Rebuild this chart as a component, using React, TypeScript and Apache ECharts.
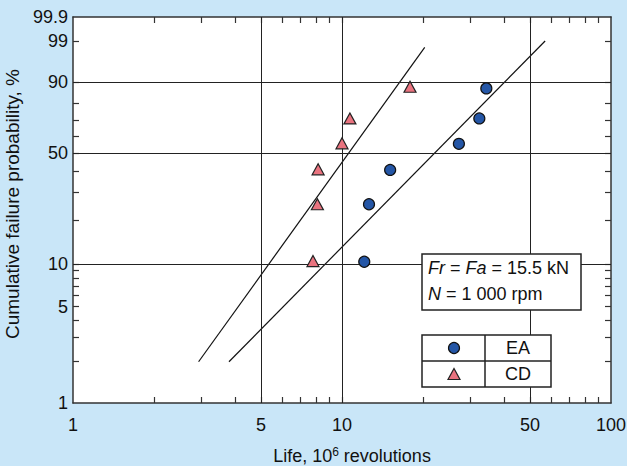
import React, { useEffect, useRef } from "react";
import * as echarts from "echarts";

// ---- data ----
const eaLife = [12.1, 12.6, 15.1, 27.2, 32.4, 34.4];
const eaProb = [10.4, 25.2, 40.5, 55.4, 71.1, 87.3];
const cdLife = [7.8, 8.1, 8.15, 10.0, 10.7, 17.9];
const cdProb = [10.5, 25.2, 40.8, 55.7, 71.1, 88.0];

const eaFitLife = [3.8, 56.9];
const eaFitProb = [2.0, 99.0];
const cdFitLife = [2.93, 20.3];
const cdFitProb = [2.0, 98.4];

// ---- axis ticks ----
const xLabelValues = [1, 5, 10, 50, 100];
const xMinorTicks = [2, 3, 4, 6, 7, 8, 9, 20, 30, 40, 60, 70, 80, 90];
const xGridValues = [5, 10, 50];
const yLabelValues = [1, 5, 10, 50, 90, 99, 99.9];
const yLabelTexts = ["1", "5", "10", "50", "90", "99", "99.9"];
const yMinorTicks = [2, 3, 4, 6, 7, 8, 9, 20, 30, 40, 60, 70, 80];
const yGridValues = [10, 50, 90];

const xLifeMin = 1;
const xLifeMax = 100;
const yProbMin = 1;
const yProbMax = 99.9;

// Weibull probability scale and log life scale
const wb = (p: number) => Math.log(-Math.log(1 - p / 100));
const lg = (v: number) => Math.log10(v);

const FONT = "'Liberation Sans', Arial, Helvetica, sans-serif";

const labelFor = (val: number, values: number[], texts: string[], tf: (n: number) => number) => {
  for (let i = 0; i < values.length; i++) {
    if (Math.abs(tf(values[i]) - val) < 1e-6) return texts[i];
  }
  return "";
};

export default function App() {
  const ref = useRef<HTMLDivElement>(null);

  useEffect(() => {
    if (!ref.current) return;
    const chart = echarts.init(ref.current, undefined, { renderer: "svg" });

    const xTickVals = [...xMinorTicks, 5, 10, 50].map(lg);
    const yTickVals = [...yMinorTicks, 5, 10, 50, 90, 99].map(wb);
    const xMin = lg(xLifeMin), xMax = lg(xLifeMax);
    const yMin = wb(yProbMin), yMax = wb(yProbMax);

    const tickStyle = { show: true, inside: true, length: 6, lineStyle: { color: "#333", width: 1.2 } };
    const axisLine = { show: true, onZero: false, lineStyle: { color: "#333", width: 1.5 } };
    const Z = 100;

    const option: any = {
      animation: false,
      backgroundColor: "#c9e6f8",
      textStyle: { fontFamily: FONT },
      grid: {
        left: 73, right: 16, top: 17, bottom: 63,
        outerBoundsMode: "none",
        containLabel: false,
        show: true, backgroundColor: "#ffffff", borderWidth: 0,
      },
      xAxis: [
        {
          type: "value", min: xMin, max: xMax, position: "bottom",
          axisLine,
          axisTick: { ...tickStyle, customValues: xTickVals },
          splitLine: { show: false },
          axisLabel: {
            customValues: xLabelValues.map(lg),
            formatter: (v: number) => labelFor(v, xLabelValues, xLabelValues.map(String), lg),
            color: "#111", fontSize: 18, fontFamily: FONT, margin: 13,
          },
          name: "Life, 10{sup|6} revolutions",
          nameLocation: "middle",
          nameGap: 43,
          nameTextStyle: {
            color: "#111", fontSize: 18, fontFamily: FONT, padding: [0, 0, 0, 20],
            rich: {
              sup: { fontSize: 12, fontFamily: FONT, color: "#111", verticalAlign: "top", padding: [0, 0, 8, 0] },
            },
          },
        },
        {
          type: "value", min: xMin, max: xMax, position: "top",
          axisLine,
          axisTick: { ...tickStyle, customValues: xTickVals },
          splitLine: { show: false },
          axisLabel: { show: false },
        },
      ],
      yAxis: [
        {
          type: "value", min: yMin, max: yMax, position: "left",
          axisLine,
          axisTick: { ...tickStyle, customValues: yTickVals },
          splitLine: { show: false },
          axisLabel: {
            customValues: yLabelValues.map(wb),
            formatter: (v: number) => labelFor(v, yLabelValues, yLabelTexts, wb),
            color: "#111", fontSize: 18, fontFamily: FONT, margin: 5,
          },
          name: "Cumulative failure probability, %",
          nameLocation: "middle",
          nameGap: 48,
          nameTextStyle: { color: "#111", fontSize: 19, fontFamily: FONT, padding: [0, 0, 0, 12] },
        },
        {
          type: "value", min: yMin, max: yMax, position: "right",
          axisLine,
          axisTick: { ...tickStyle, customValues: yTickVals },
          splitLine: { show: false },
          axisLabel: { show: false },
        },
      ],
      series: [
        {
          type: "line",
          name: "grid",
          data: [],
          silent: true,
          z: 1,
          markLine: {
            silent: true,
            symbol: "none",
            label: { show: false },
            animation: false,
            lineStyle: { color: "#222", width: 1, type: "solid" },
            data: [
              ...xGridValues.map((v) => ({ xAxis: lg(v) })),
              ...yGridValues.map((v) => ({ yAxis: wb(v) })),
            ],
          },
        },
        {
          type: "line",
          name: "EA fit",
          data: eaFitLife.map((l, i) => [lg(l), wb(eaFitProb[i])]),
          symbol: "none",
          lineStyle: { color: "#111", width: 1.2 },
          silent: true,
          z: 3,
        },
        {
          type: "line",
          name: "CD fit",
          data: cdFitLife.map((l, i) => [lg(l), wb(cdFitProb[i])]),
          symbol: "none",
          lineStyle: { color: "#111", width: 1.2 },
          silent: true,
          z: 3,
        },
        {
          type: "scatter",
          name: "EA",
          data: eaLife.map((l, i) => [lg(l), wb(eaProb[i])]),
          symbol: "circle",
          symbolSize: 11,
          itemStyle: { color: "#2456a6", borderColor: "#111", borderWidth: 1.2, opacity: 1 },
          z: 5,
        },
        {
          type: "scatter",
          name: "CD",
          data: cdLife.map((l, i) => [lg(l), wb(cdProb[i])]),
          symbol: "triangle",
          symbolSize: [12, 11],
          itemStyle: { color: "#e9737f", borderColor: "#222", borderWidth: 1.2, opacity: 1 },
          z: 5,
        },
      ],
      graphic: [
        {
          type: "rect", z: Z,
          shape: { x: 422, y: 254, width: 159, height: 56 },
          style: { fill: "#ffffff", stroke: "#222", lineWidth: 1.5 },
        },
        {
          type: "text", z: Z + 1,
          x: 428,
          y: 268,
          style: {
            text: "{i|Fr} = {i|Fa} = 15.5 kN",
            fontSize: 18, fontFamily: FONT, fill: "#111", verticalAlign: "middle",
            rich: { i: { fontStyle: "italic", fontSize: 18, fontFamily: FONT, fill: "#111" } },
          },
        },
        {
          type: "text", z: Z + 1,
          x: 428,
          y: 294,
          style: {
            text: "{i|N} = 1 000 rpm",
            fontSize: 18, fontFamily: FONT, fill: "#111", verticalAlign: "middle",
            rich: { i: { fontStyle: "italic", fontSize: 18, fontFamily: FONT, fill: "#111" } },
          },
        },
        {
          type: "rect", z: Z,
          shape: { x: 422, y: 335, width: 129, height: 52 },
          style: { fill: "#ffffff", stroke: "#222", lineWidth: 1.5 },
        },
        { type: "line", z: Z + 1, shape: { x1: 485, y1: 335, x2: 485, y2: 387 }, style: { stroke: "#222", lineWidth: 1.5 } },
        { type: "line", z: Z + 1, shape: { x1: 422, y1: 361, x2: 551, y2: 361 }, style: { stroke: "#222", lineWidth: 1.5 } },
        {
          type: "circle", z: Z + 1,
          shape: { cx: 454, cy: 348, r: 5.5 },
          style: { fill: "#2456a6", stroke: "#111", lineWidth: 1.2 },
        },
        {
          type: "polygon", z: Z + 1,
          shape: { points: [[448, 379.5], [460, 379.5], [454, 368.5]] },
          style: { fill: "#e9737f", stroke: "#222", lineWidth: 1.2 },
        },
        {
          type: "text", z: Z + 1, x: 518, y: 348,
          style: { text: "EA", fontSize: 18, fontFamily: FONT, fill: "#111", align: "center", verticalAlign: "middle" },
        },
        {
          type: "text", z: Z + 1, x: 518, y: 374,
          style: { text: "CD", fontSize: 18, fontFamily: FONT, fill: "#111", align: "center", verticalAlign: "middle" },
        },
      ],
    };

    chart.setOption(option);
    return () => chart.dispose();
  }, []);

  return (
    <div
      ref={ref}
      style={{ position: "fixed", left: 0, top: 0, width: 627, height: 466 }}
    />
  );
}
